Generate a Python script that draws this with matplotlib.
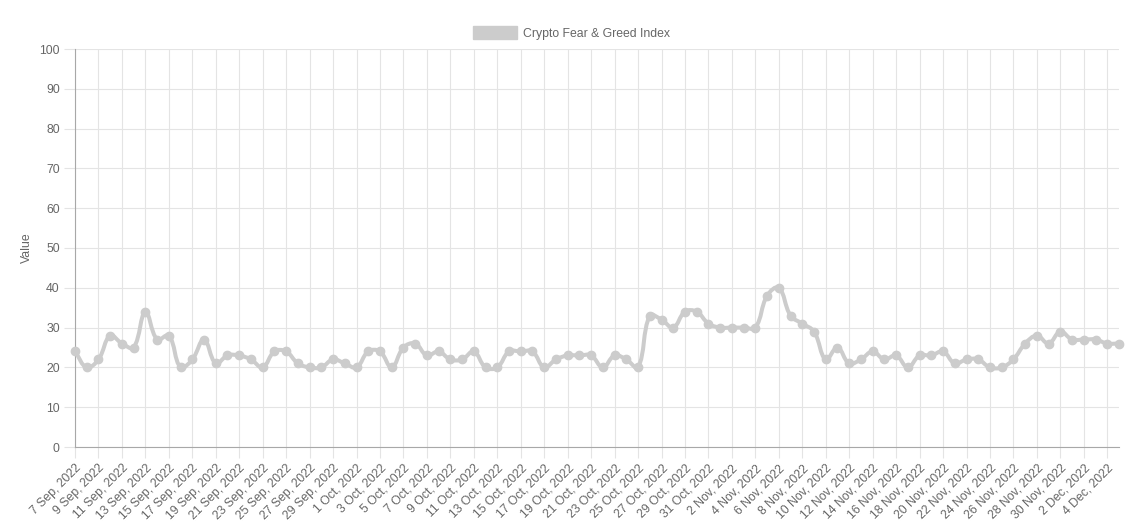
import numpy as np
import pandas as pd
import matplotlib
matplotlib.use("Agg")
import matplotlib.pyplot as plt
from matplotlib.path import Path
from matplotlib.patches import PathPatch, Patch

plt.rcParams['font.family'] = ['Liberation Sans', 'DejaVu Sans']

# daily values, 7 Sep 2022 .. 5 Dec 2022
dates = pd.date_range("2022-09-07", "2022-12-05", freq="D")
values = [24, 20, 22, 28, 26, 25, 34, 27, 28, 20,
          22, 27, 21, 23, 23, 22, 20, 24, 24, 21,
          20, 20, 22, 21, 20, 24, 24, 20, 25, 26,
          23, 24, 22, 22, 24, 20, 20, 24, 24, 24,
          20, 22, 23, 23, 23, 20, 23, 22, 20, 33,
          32, 30, 34, 34, 31, 30, 30, 30, 30, 38,
          40, 33, 31, 29, 22, 25, 21, 22, 24, 22,
          23, 20, 23, 23, 24, 21, 22, 22, 20, 20,
          22, 26, 28, 26, 29, 27, 27, 27, 26, 26]
labels = [f"{d.day} {d.strftime('%b')}, {d.year}" for d in dates]
series_name = "Crypto Fear & Greed Index"

line_col = "#cccccc"
grid_col = "#e4e4e4"
text_col = "#666666"

fig = plt.figure(figsize=(11.48, 5.27), dpi=100)
ax = fig.add_axes([75/1148, 1-447/527, (1119-75)/1148, (447-49)/527])

x = np.arange(len(values))
y = np.array(values, dtype=float)

# smooth the line the way Chart.js does (tension 0.4), in pixel space
sx, sy = 11.73, 3.98
t = 0.4
verts = [(x[0], y[0])]
codes = [Path.MOVETO]
cps = []
for i in range(len(x)):
    p = np.array([x[i]*sx, y[i]*sy])
    prev = np.array([x[max(i-1, 0)]*sx, y[max(i-1, 0)]*sy])
    nxt = np.array([x[min(i+1, len(x)-1)]*sx, y[min(i+1, len(x)-1)]*sy])
    d01 = np.hypot(*(p-prev))
    d12 = np.hypot(*(nxt-p))
    tot = d01 + d12
    s01 = d01/tot if tot else 0
    s12 = d12/tot if tot else 0
    c1 = p - t*s01*(nxt-prev)
    c2 = p + t*s12*(nxt-prev)
    cps.append((c1/[sx, sy], c2/[sx, sy]))
for i in range(1, len(x)):
    verts += [tuple(cps[i-1][1]), tuple(cps[i][0]), (x[i], y[i])]
    codes += [Path.CURVE4]*3
ax.add_patch(PathPatch(Path(verts, codes), facecolor="none",
                       edgecolor=line_col, lw=2.9, capstyle="round",
                       joinstyle="round", zorder=3, clip_on=False))
ax.plot(x, y, "o", color=line_col, ms=6, zorder=4, clip_on=False)

ax.set_xlim(0, len(x)-1)
ax.set_ylim(0, 100)
ax.set_yticks(range(0, 101, 10))
ax.set_xticks(x[::2])
ax.set_xticklabels(labels[::2], rotation=45, ha="right", va="top",
                   rotation_mode="anchor")
ax.tick_params(axis="both", colors=grid_col, labelcolor=text_col,
               labelsize=8.8, length=8, width=0.8)
ax.tick_params(axis="x", pad=3)
ax.tick_params(axis="y", pad=3)
ax.grid(True, color=grid_col, lw=0.8)
ax.set_axisbelow(True)
for s in ["top", "right"]:
    ax.spines[s].set_visible(False)
ax.spines["left"].set_color("#a8a8a8")
ax.spines["bottom"].set_color("#a8a8a8")
ax.set_ylabel("Value", color=text_col, fontsize=8.8)
ax.yaxis.set_label_coords(-(75-33)/1044, 0.5)

fig.legend(handles=[Patch(facecolor=line_col, edgecolor=line_col)],
           labels=[series_name], loc="center", bbox_to_anchor=(0.498, 1-33/527),
           frameon=False, handlelength=3.6, handleheight=1.15,
           handletextpad=0.5, labelcolor=text_col, fontsize=8.8)

fig.savefig("out.png", dpi=100)
